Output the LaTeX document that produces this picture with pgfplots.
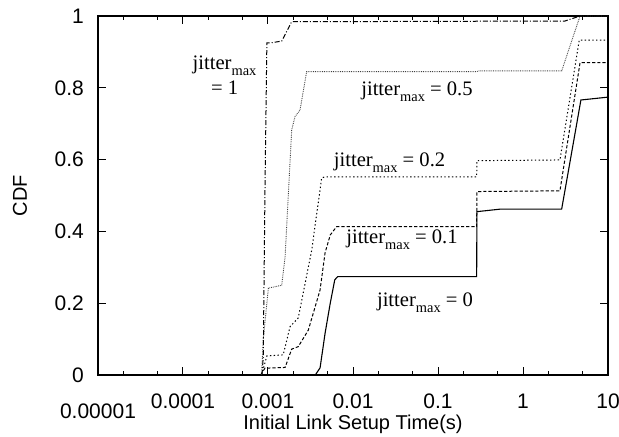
\documentclass[border=0pt]{standalone}
\usepackage{fontspec}
\setmainfont{Liberation Sans}
\newfontfamily\annfont{Liberation Serif}
\usepackage{pgfplots}
\pgfplotsset{compat=1.18}
\newcommand{\jm}{jitter\raisebox{-3pt}{\fontsize{7.2}{8}\selectfont max}}
\begin{document}
\begin{tikzpicture}
\begin{axis}[name=ax,
  scale only axis, width=255pt, height=179.5pt,
  xmode=log, xmin=1e-5, xmax=10, ymin=0, ymax=1,
  xtick={1e-4,1e-3,1e-2,0.1,1,10},
  xticklabels={0.0001,0.001,0.01,0.1,1,10},
  extra x ticks={1e-5}, extra x tick labels={0.00001},
  extra x tick style={xticklabel style={yshift=-5pt}},
  minor xtick={2e-5,5e-5,2e-4,5e-4,0.002,0.005,0.02,0.05,0.2,0.5,2,5},
  ytick={0,0.2,0.4,0.6,0.8,1},
  yticklabels={0,0.2,0.4,0.6,0.8,1},
  tick align=inside, major tick length=4pt, minor tick length=2pt,
  every tick/.style={black, line width=0.5pt},
  axis line style={line width=0.8pt},
  tick label style={font=\fontsize{10.5}{12}\selectfont},
  xticklabel style={yshift=-6pt},
  yticklabel style={xshift=-3.5pt},
  label style={font=\fontsize{9.8}{11}\selectfont},
  xlabel={Initial Link Setup Time(s)}, ylabel={CDF},
  every axis x label/.style={at={(axis description cs:0.5,0)}, yshift=-24.5pt, anchor=center},
  every axis y label/.style={at={(axis description cs:0,0.5)}, xshift=-39pt, rotate=90, anchor=center},
]
% jitter_max = 0
\addplot[black, line width=0.55pt] coordinates {(0.0036,0) (0.0041,0.02) (0.0047,0.117) (0.0054,0.2) (0.0061,0.265) (0.0066,0.274) (0.285,0.274) (0.287,0.455) (0.54,0.462) (2.85,0.462) (4.8,0.766) (10,0.774)};
% jitter_max = 0.1
\addplot[black, line width=0.5pt, dash pattern=on 1.6pt off 1pt] coordinates {(0.00082,0) (0.00092,0.019) (0.00159,0.021) (0.0019,0.072) (0.00227,0.079) (0.00298,0.125) (0.0041,0.237) (0.00469,0.34) (0.0054,0.39) (0.0064,0.413) (0.285,0.413) (0.287,0.511) (2.72,0.513) (4.69,0.870) (10,0.870)};
% jitter_max = 0.2
\addplot[black, line width=0.5pt, dash pattern=on 0.7pt off 1.2pt] coordinates {(0.00084,0) (0.00097,0.053) (0.00151,0.056) (0.00182,0.135) (0.00227,0.159) (0.00327,0.348) (0.00428,0.549) (0.00469,0.552) (0.285,0.552) (0.287,0.597) (2.72,0.599) (4.59,0.933) (10,0.933)};
% jitter_max = 0.5
\addplot[black!75, line width=0.45pt, dash pattern=on 0.4pt off 0.5pt] coordinates {(0.00084,0) (0.00088,0.1) (0.00101,0.242) (0.00145,0.25) (0.00159,0.33) (0.0019,0.682) (0.00208,0.72) (0.00238,0.738) (0.00285,0.845) (0.285,0.845) (0.3,0.847) (2.85,0.847) (4.69,1) (10,1)};
% jitter_max = 1
\addplot[black, line width=0.5pt, dash pattern=on 2.5pt off 1pt on 0.5pt off 1pt] coordinates {(0.00085,0) (0.00088,0.05) (0.00092,0.5) (0.00097,0.925) (0.00106,0.925) (0.00145,0.93) (0.0019,0.984) (3.12,0.986) (4.69,1) (10,1)};
\begin{scope}[every node/.style={font=\annfont\fontsize{10.3}{11}\selectfont, inner sep=0pt}]
\node at (axis cs:3.08e-4,0.861) {\jm};
\node at (axis cs:3.1e-4,0.8) {= 1};
\node at (axis cs:0.0566,0.79) {\jm\ = 0.5};
\node at (axis cs:0.0269,0.59) {\jm\ = 0.2};
\node at (axis cs:0.0377,0.376) {\jm\ = 0.1};
\node at (axis cs:0.0703,0.2) {\jm\ = 0};
\end{scope}
\end{axis}
\pgfresetboundingbox
\path[use as bounding box] ([shift={(-49pt,-31pt)}]ax.south west) rectangle ([shift={(5.5pt,8pt)}]ax.north east);
\end{tikzpicture}
\end{document}
